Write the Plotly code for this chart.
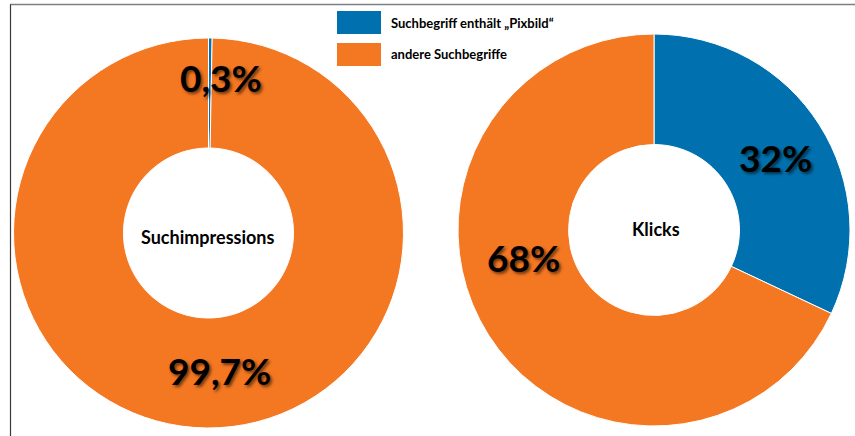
import plotly.graph_objects as go

W, H = 855, 436

categories = ["Suchbegriff enthält „Pixbild“", "andere Suchbegriffe"]
impressions = [0.3, 99.7]
klicks = [32, 68]
chart_titles = ["Suchimpressions", "Klicks"]
colors = ["#0071AE", "#F47722"]

def px(x):
    return x / W

def py(y):
    return 1 - y / H

def fmt(v):
    return f"{v:g}".replace(".", ",") + "%"

fig = go.Figure()
common = dict(labels=categories, sort=False, direction="clockwise", rotation=0,
              hole=0.436, textinfo="none", hoverinfo="label+percent",
              marker=dict(colors=colors, line=dict(color="white", width=1)),
              showlegend=False)
fig.add_trace(go.Pie(values=impressions, domain=dict(x=[px(13.5), px(403.5)], y=[py(428), py(38)]), **common))
fig.add_trace(go.Pie(values=klicks, domain=dict(x=[px(458), px(850)], y=[py(426), py(34)]), **common))

FONT = "Lato, 'Open Sans', sans-serif"
shadow = "2px 2px 3px rgba(0,0,0,0.55)"
ann = []
# center titles
for t, (x, y) in zip(chart_titles, [(208, 237), (656, 229)]):
    ann.append(dict(x=px(x), y=py(y), xref="paper", yref="paper", text=f"<b>{t}</b>",
                    xanchor="center", yanchor="middle",
                    showarrow=False, font=dict(family=FONT, size=18, color="black")))
# percentage labels
pct_pos = [((221, 77), (219, 370)), ((775, 157), (523, 257))]
for vals, poss in zip([impressions, klicks], pct_pos):
    for v, (x, y) in zip(vals, poss):
        ann.append(dict(x=px(x), y=py(y), xref="paper", yref="paper", text=f"<b>{fmt(v)}</b>",
                        xanchor="center", yanchor="middle", showarrow=False,
                        font=dict(family=FONT, size=37, color="black", shadow=shadow)))
# legend
shapes = []
leg = [(11, 34, 23), (43, 66, 54)]
for cat, col, (y0, y1, yc) in zip(categories, colors, leg):
    shapes.append(dict(type="rect", xref="paper", yref="paper", x0=px(337), x1=px(381),
                       y0=py(y1), y1=py(y0), fillcolor=col, line=dict(width=0)))
    ann.append(dict(x=px(389), y=py(yc), xref="paper", yref="paper", text=f"<b>{cat}</b>",
                    xanchor="left", yanchor="middle", showarrow=False,
                    font=dict(family=FONT, size=13, color="black")))
# frame lines
shapes.append(dict(type="line", xref="paper", yref="paper", x0=px(10), x1=1, y0=py(4.5), y1=py(4.5),
                   line=dict(color="#7f7f7f", width=1.5)))
shapes.append(dict(type="line", xref="paper", yref="paper", x0=px(10.5), x1=px(10.5), y0=0, y1=py(4.5),
                   line=dict(color="#3a3a3a", width=1.2)))

fig.update_layout(width=W, height=H, margin=dict(l=0, r=0, t=0, b=0),
                  paper_bgcolor="white", plot_bgcolor="white",
                  annotations=ann, shapes=shapes)
fig.write_html("out.html")
